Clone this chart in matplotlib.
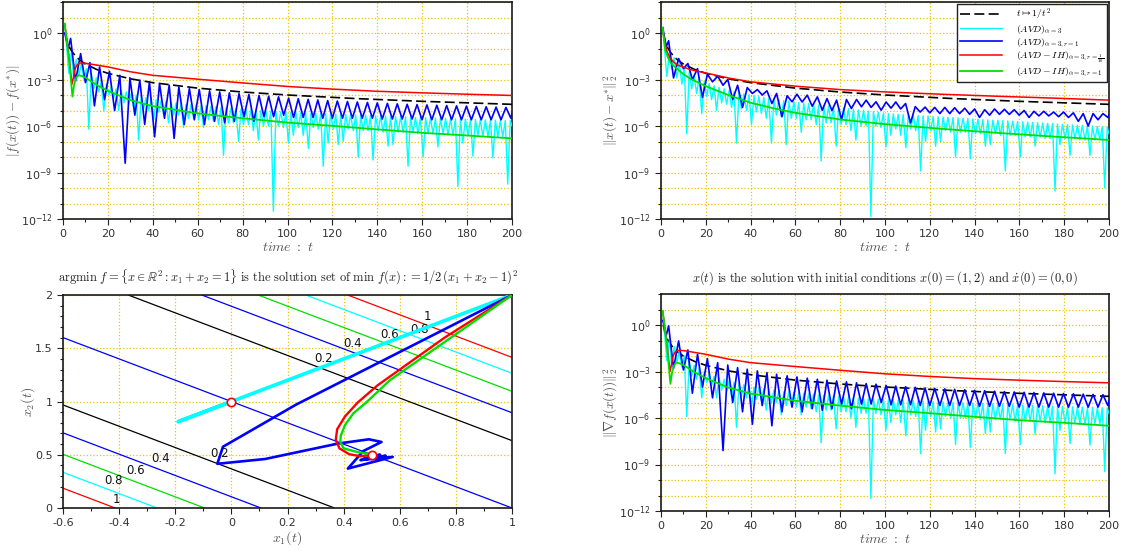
import numpy as np
import matplotlib
matplotlib.use('Agg')
import matplotlib.pyplot as plt
from matplotlib.ticker import FixedLocator, FixedFormatter, NullFormatter

plt.rcParams['mathtext.fontset'] = 'cm'
plt.rcParams['font.family'] = ['DejaVu Sans']

# ---------------------------------------------------------------- data
# time axis ticks
time_ticks = [0, 20, 40, 60, 80, 100, 120, 140, 160, 180, 200]
time_tick_labels = ['0', '20', '40', '60', '80', '100', '120', '140', '160', '180', '200']
time_minor = [10, 30, 50, 70, 90, 110, 130, 150, 170, 190]
log_label_exps = [-12, -9, -6, -3, 0]
log_tick_labels = [r'$\mathdefault{10^{-12}}$', r'$\mathdefault{10^{-9}}$', r'$\mathdefault{10^{-6}}$',
                   r'$\mathdefault{10^{-3}}$', r'$\mathdefault{10^{0}}$']
log_minor_exps = [-12, -11, -10, -9, -8, -7, -6, -5, -4, -3, -2, -1, 0, 1, 2]

# reference curve t -> 1/t^2
ref_t = [1, 1.5, 2, 3, 4, 6, 8, 10, 15, 20, 30, 40, 60, 80, 100, 130, 160, 200]
ref_v = [1.0, 0.444, 0.25, 0.111, 0.0625, 0.0278, 0.0156, 0.01, 0.00444, 0.0025, 0.00111,
         6.25e-4, 2.78e-4, 1.56e-4, 1.0e-4, 5.92e-5, 3.91e-5, 2.5e-5]

# (AVD)_{alpha=3}: times of oscillation troughs and peaks (log10 values per panel)
cyan_t_start, cyan_t_end = 0.8, 200.0
cyan_trough_t = [2.6, 4.8, 7.1, 9.3, 11.5, 13.7, 15.9, 18.2, 20.4, 22.6,
                 24.8, 27.1, 29.3, 31.5, 33.7, 35.9, 38.2, 40.4, 42.6, 44.8,
                 47.0, 49.3, 51.5, 53.7, 55.9, 58.2, 60.4, 62.6, 64.8, 67.0,
                 69.3, 71.5, 73.7, 75.9, 78.2, 80.4, 82.6, 84.8, 87.0, 89.3,
                 91.5, 93.7, 95.9, 98.2, 100.4, 102.6, 104.8, 107.0, 109.3, 111.5,
                 113.7, 115.9, 118.1, 120.4, 122.6, 124.8, 127.0, 129.3, 131.5, 133.7,
                 135.9, 138.1, 140.4, 142.6, 144.8, 147.0, 149.3, 151.5, 153.7, 155.9,
                 158.1, 160.4, 162.6, 164.8, 167.0, 169.3, 171.5, 173.7, 175.9, 178.1,
                 180.4, 182.6, 184.8, 187.0, 189.3, 191.5, 193.7, 195.9, 198.1]
cyan_peak_t = [3.7, 5.9, 8.2, 10.4, 12.6, 14.8, 17.0, 19.3, 21.5, 23.7,
               25.9, 28.2, 30.4, 32.6, 34.8, 37.0, 39.3, 41.5, 43.7, 45.9,
               48.1, 50.4, 52.6, 54.8, 57.0, 59.3, 61.5, 63.7, 65.9, 68.1,
               70.4, 72.6, 74.8, 77.0, 79.3, 81.5, 83.7, 85.9, 88.1, 90.4,
               92.6, 94.8, 97.0, 99.3, 101.5, 103.7, 105.9, 108.1, 110.4, 112.6,
               114.8, 117.0, 119.2, 121.5, 123.7, 125.9, 128.1, 130.4, 132.6, 134.8,
               137.0, 139.2, 141.5, 143.7, 145.9, 148.1, 150.4, 152.6, 154.8, 157.0,
               159.2, 161.5, 163.7, 165.9, 168.1, 170.4, 172.6, 174.8, 177.0, 179.2,
               181.5, 183.7, 185.9, 188.1, 190.4, 192.6, 194.8, 197.0, 199.2]

# ---- top-left panel |f(x(t)) - f(x*)|  (log10 values)
tl_cyan_ends = [0.6, -6.0]
tl_cyan_trough = [-2.6, -2.9, -2.7, -3.0, -6.2, -3.6, -3.8, -5.0, -4.0, -4.2,
                  -5.0, -4.5, -4.6, -4.9, -6.9, -4.9, -5.0, -5.6, -5.1, -5.2,
                  -5.8, -5.3, -5.3, -6.1, -5.5, -5.5, -5.6, -6.1, -5.6, -5.7,
                  -5.9, -7.9, -5.8, -5.8, -7.0, -5.9, -5.9, -6.3, -6.9, -6.0,
                  -6.0, -11.5, -6.0, -6.1, -7.1, -6.6, -6.1, -6.6, -7.45, -6.1,
                  -6.2, -8.6, -7.1, -6.2, -7.2, -7.0, -6.2, -6.3, -8.0, -6.3,
                  -6.3, -8.2, -6.3, -6.4, -7.3, -7.2, -6.4, -6.4, -8.6, -6.4,
                  -6.5, -8.0, -6.5, -6.5, -7.35, -6.5, -6.6, -6.6, -9.9, -7.1,
                  -6.6, -7.95, -6.6, -6.7, -6.7, -8.05, -6.7, -6.7, -9.75]
tl_cyan_peak = [-1.3, -1.7, -2.0, -2.3, -2.6, -2.9, -3.1, -3.3, -3.45, -3.6,
                -3.7, -3.8, -3.9, -4.0, -4.1, -4.15, -4.2, -4.3, -4.35, -4.4,
                -4.45, -4.5, -4.55, -4.6, -4.62, -4.65, -4.68, -4.7, -4.73, -4.76,
                -4.8, -4.82, -4.85, -4.87, -4.9, -4.92, -4.95, -4.97, -5.0, -5.02,
                -5.04, -5.06, -5.08, -5.1, -5.11, -5.12, -5.14, -5.15, -5.17, -5.18,
                -5.2, -5.21, -5.22, -5.24, -5.25, -5.26, -5.28, -5.29, -5.3, -5.31,
                -5.33, -5.34, -5.35, -5.36, -5.38, -5.39, -5.4, -5.41, -5.42, -5.44,
                -5.45, -5.46, -5.47, -5.48, -5.5, -5.51, -5.52, -5.53, -5.54, -5.55,
                -5.57, -5.58, -5.59, -5.6, -5.61, -5.62, -5.63, -5.64, -5.65]

# (AVD)_{alpha=3,r=1}: alternating trough/peak times
blue_t = [0.8,
          2.3, 3.4, 5.6, 7.85, 10.0, 12.0, 14.0, 16.3, 18.5, 20.7,
          23.0, 25.3, 27.7, 29.8, 32.0, 34.2, 36.4, 38.5, 40.8, 43.0,
          45.2, 47.3, 49.5, 51.6, 54.0, 56.3, 58.5, 60.7, 63.0, 65.3,
          67.5, 69.8, 72.0, 74.1, 76.3, 78.4, 80.6, 82.8, 85.0, 87.3,
          89.5, 91.6, 93.8, 96.0, 98.3, 100.5, 102.7, 104.8, 107.0, 109.2,
          111.4, 113.5, 115.7, 117.9, 120.0, 122.2, 124.5, 126.7, 128.9, 131.1,
          133.3, 135.6, 137.8, 140.0, 142.2, 144.5, 146.7, 148.9, 151.1, 153.3,
          155.5, 157.7, 159.9, 162.1, 164.3, 166.5, 168.7, 170.9, 173.1, 175.3,
          177.5, 179.7, 181.9, 184.1, 186.3, 188.5, 190.7, 192.9, 195.1, 197.3,
          199.5, 200.0]
tl_blue = [0.0,
           -1.0, -0.35, -3.1, -1.33, -3.2, -1.91, -4.7, -2.19, -4.3, -2.47,
           -5.0, -2.73, -8.4, -2.88, -5.3, -3.05, -5.9, -3.15, -6.7, -3.26,
           -5.5, -3.37, -6.8, -3.48, -5.9, -3.58, -5.6, -3.65, -5.9, -3.73,
           -5.7, -3.8, -5.8, -3.86, -5.7, -3.91, -5.4, -3.97, -5.7, -4.03,
           -5.4, -4.08, -5.4, -4.12, -5.3, -4.2, -5.45, -4.24, -5.45, -4.28,
           -5.45, -4.32, -5.5, -4.36, -5.5, -4.39, -5.5, -4.42, -5.5, -4.45,
           -5.5, -4.48, -5.5, -4.51, -5.55, -4.54, -5.55, -4.57, -5.55, -4.6,
           -5.55, -4.62, -5.6, -4.64, -5.6, -4.66, -5.6, -4.68, -5.6, -4.7,
           -5.6, -4.72, -5.6, -4.74, -5.6, -4.76, -5.6, -4.78, -5.6, -4.8,
           -5.5, -5.2]

tl_red_t = [0.75, 1.5, 2.5, 3.3, 4.0, 4.6, 5.2, 6.0, 7.0, 8.0, 10, 15, 20, 30, 40, 60, 80, 100,
            120, 140, 160, 180, 200]
tl_red = [0.6, -0.2, -1.3, -2.4, -3.3, -2.9, -2.4, -2.1, -1.97, -1.93, -1.95, -2.07, -2.19, -2.5,
          -2.73, -2.98, -3.22, -3.45, -3.62, -3.76, -3.86, -3.95, -4.03]
tl_green_t = [0.75, 1.5, 2.5, 3.3, 4.2, 5.0, 6.0, 7.0, 8.5, 10, 15, 20, 30, 40, 60, 80, 100,
              120, 140, 160, 180, 200]
tl_green = [0.6, -0.3, -1.5, -2.7, -4.1, -3.3, -2.85, -2.73, -2.78, -2.88, -3.35, -3.73, -4.33,
            -4.72, -5.19, -5.5, -5.78, -5.99, -6.22, -6.44, -6.61, -6.8]

# ---- top-right panel ||x(t) - x*||^2 (log10 values)
tr_cyan_ends = [0.34, -6.5]
tr_cyan_trough = [-2.8, -2.3, -2.9, -3.3, -6.5, -3.6, -3.9, -5.2, -4.1, -4.3,
                  -5.0, -4.5, -4.6, -4.8, -7.1, -4.9, -5.0, -5.9, -5.1, -5.2,
                  -5.5, -7.1, -5.3, -5.4, -7.2, -5.5, -5.5, -6.4, -5.6, -5.6,
                  -5.9, -8.25, -5.8, -5.8, -7.3, -5.9, -5.9, -6.3, -6.9, -6.0,
                  -6.0, -11.85, -6.0, -6.1, -7.35, -6.6, -6.2, -6.6, -7.4, -6.2,
                  -6.3, -8.9, -7.0, -6.3, -7.3, -7.0, -6.3, -6.4, -8.0, -6.4,
                  -6.4, -8.1, -6.5, -6.5, -7.3, -7.2, -6.5, -6.6, -8.9, -6.6,
                  -6.6, -8.0, -6.7, -6.7, -7.3, -6.7, -6.8, -6.8, -10.2, -7.2,
                  -6.8, -7.9, -6.8, -6.9, -6.9, -7.9, -6.9, -6.9, -10.0]
tr_cyan_peak = [-1.4, -1.6, -1.9, -2.2, -2.5, -2.7, -2.9, -3.1, -3.25, -3.4,
                -3.5, -3.6, -3.7, -3.78, -3.85, -3.92, -3.98, -4.04, -4.1, -4.15,
                -4.2, -4.25, -4.3, -4.35, -4.4, -4.44, -4.48, -4.52, -4.56, -4.6,
                -4.64, -4.68, -4.72, -4.76, -4.8, -4.84, -4.88, -4.92, -4.96, -5.0,
                -5.04, -5.08, -5.12, -5.16, -5.2, -5.22, -5.24, -5.26, -5.28, -5.3,
                -5.32, -5.34, -5.36, -5.38, -5.4, -5.42, -5.44, -5.46, -5.48, -5.5,
                -5.52, -5.54, -5.56, -5.58, -5.6, -5.62, -5.63, -5.65, -5.67, -5.69,
                -5.71, -5.73, -5.75, -5.77, -5.79, -5.81, -5.83, -5.85, -5.87, -5.89,
                -5.91, -5.93, -5.95, -5.97, -5.99, -6.01, -6.03, -6.05, -6.07]
tr_blue = [0.34,
           -0.9, -0.5, -2.9, -1.65, -2.3, -1.97, -3.0, -2.3, -4.16, -2.66,
           -3.15, -2.79, -3.37, -3.0, -4.29, -3.37, -4.8, -3.52, -3.9, -3.65,
           -4.0, -3.73, -4.55, -3.9, -5.4, -4.05, -4.44, -3.95, -4.45, -4.01,
           -4.72, -4.12, -4.98, -4.23, -5.0, -4.33, -5.58, -4.29, -4.87, -4.29,
           -4.76, -4.33, -4.8, -4.44, -4.98, -4.45, -4.85, -4.45, -4.9, -4.55,
           -5.8, -4.75, -5.1, -4.78, -5.15, -4.8, -5.2, -4.8, -5.2, -4.82,
           -5.2, -4.85, -5.25, -4.9, -5.45, -4.95, -5.3, -4.9, -5.25, -4.92,
           -5.25, -4.95, -5.3, -5.0, -5.45, -5.05, -5.35, -5.05, -5.35, -5.1,
           -5.4, -5.1, -5.45, -5.15, -5.7, -5.2, -6.0, -5.2, -5.6, -5.2,
           -5.45, -5.3]
tr_red_t = [0.75, 1.5, 2.7, 4.0, 5.5, 7.1, 10, 13, 20, 30, 40, 60, 80, 100, 125, 150, 175, 200]
tr_red = [0.34, -0.5, -1.2, -1.6, -1.85, -2.05, -2.2, -2.36, -2.58, -2.9, -3.15, -3.43, -3.65,
          -3.8, -3.95, -4.08, -4.2, -4.33]
tr_green_t = [0.75, 1.9, 3.0, 4.1, 5.5, 7.1, 10, 13, 20, 30, 40, 50, 60, 80, 100, 125, 150, 175, 200]
tr_green = [0.34, -1.1, -1.55, -1.87, -2.1, -2.3, -2.65, -2.94, -3.43, -4.0, -4.5, -4.85, -5.15,
            -5.58, -5.88, -6.18, -6.44, -6.68, -6.9]

# ---- bottom-right panel ||grad f(x(t))||^2 (log10 values)
br_cyan_ends = [0.9, -5.7]
br_cyan_trough = [-2.3, -2.6, -2.4, -2.7, -5.9, -3.3, -3.5, -4.7, -3.7, -3.9,
                  -4.7, -4.2, -4.3, -4.6, -6.6, -4.6, -4.7, -5.3, -4.8, -4.9,
                  -5.5, -5.0, -5.0, -5.8, -5.2, -5.2, -5.3, -5.8, -5.3, -5.4,
                  -5.6, -7.6, -5.5, -5.5, -6.7, -5.6, -5.6, -6.0, -6.6, -5.7,
                  -5.7, -11.2, -5.7, -5.8, -6.8, -6.3, -5.8, -6.3, -7.15, -5.8,
                  -5.9, -8.3, -6.8, -5.9, -6.9, -6.7, -5.9, -6.0, -7.7, -6.0,
                  -6.0, -7.9, -6.0, -6.1, -7.0, -6.9, -6.1, -6.1, -8.3, -6.1,
                  -6.2, -7.7, -6.2, -6.2, -7.05, -6.2, -6.3, -6.3, -9.6, -6.8,
                  -6.3, -7.65, -6.3, -6.4, -6.4, -7.75, -6.4, -6.4, -9.45]
br_cyan_peak = [-1.0, -1.4, -1.7, -2.0, -2.3, -2.6, -2.8, -3.0, -3.15, -3.3,
                -3.4, -3.5, -3.6, -3.7, -3.8, -3.85, -3.9, -4.0, -4.05, -4.1,
                -4.15, -4.2, -4.25, -4.3, -4.32, -4.35, -4.38, -4.4, -4.43, -4.46,
                -4.5, -4.52, -4.55, -4.57, -4.6, -4.62, -4.65, -4.67, -4.7, -4.72,
                -4.74, -4.76, -4.78, -4.8, -4.81, -4.82, -4.84, -4.85, -4.87, -4.88,
                -4.9, -4.91, -4.92, -4.94, -4.95, -4.96, -4.98, -4.99, -5.0, -5.01,
                -5.03, -5.04, -5.05, -5.06, -5.08, -5.09, -5.1, -5.11, -5.12, -5.14,
                -5.15, -5.16, -5.17, -5.18, -5.2, -5.21, -5.22, -5.23, -5.24, -5.25,
                -5.27, -5.28, -5.29, -5.3, -5.31, -5.32, -5.33, -5.34, -5.35]
br_blue = [0.3,
           -0.7, -0.05, -2.8, -1.03, -2.9, -1.61, -4.4, -1.89, -4.0, -2.17,
           -4.7, -2.43, -8.1, -2.58, -5.0, -2.75, -5.6, -2.85, -6.4, -2.96,
           -5.2, -3.07, -6.5, -3.18, -5.6, -3.28, -5.3, -3.35, -5.6, -3.43,
           -5.4, -3.5, -5.5, -3.56, -5.4, -3.61, -5.1, -3.67, -5.4, -3.73,
           -5.1, -3.78, -5.1, -3.82, -5.0, -3.9, -5.15, -3.94, -5.15, -3.98,
           -5.15, -4.02, -5.2, -4.06, -5.2, -4.09, -5.2, -4.12, -5.2, -4.15,
           -5.2, -4.18, -5.2, -4.21, -5.25, -4.24, -5.25, -4.27, -5.25, -4.3,
           -5.25, -4.32, -5.3, -4.34, -5.3, -4.36, -5.3, -4.38, -5.3, -4.4,
           -5.3, -4.42, -5.3, -4.44, -5.3, -4.46, -5.3, -4.48, -5.3, -4.5,
           -5.2, -4.9]
br_red_t = tl_red_t
br_red = [0.9, 0.1, -1.0, -2.1, -3.0, -2.6, -2.1, -1.8, -1.67, -1.63, -1.65, -1.77, -1.89, -2.2,
          -2.43, -2.68, -2.92, -3.15, -3.32, -3.46, -3.56, -3.65, -3.73]
br_green_t = tl_green_t
br_green = [0.9, 0.0, -1.2, -2.4, -3.8, -3.0, -2.55, -2.43, -2.48, -2.58, -3.05, -3.43, -4.03,
            -4.42, -4.89, -5.2, -5.48, -5.69, -5.92, -6.14, -6.31, -6.5]

# ---- bottom-left panel: trajectories in the (x1, x2) plane
contour_levels = [0.2, 0.4, 0.6, 0.8, 1.0]
contour_labels = ['0.2', '0.4', '0.6', '0.8', '1']
solution_x1 = [-0.6, 1.0]
solution_x2 = [1.6, 0.0]
cyan_traj_x1 = [1.0, -0.19, 0.0]
cyan_traj_x2 = [2.0, 0.81, 1.0]
blue_traj_x1 = [1.0, 0.23, -0.03, -0.05, 0.12, 0.38, 0.49, 0.535, 0.47, 0.415, 0.575, 0.46,
                0.55, 0.47, 0.53, 0.49, 0.51, 0.5]
blue_traj_x2 = [2.0, 0.97, 0.575, 0.415, 0.46, 0.605, 0.645, 0.62, 0.535, 0.37, 0.48, 0.45,
                0.49, 0.46, 0.5, 0.48, 0.505, 0.5]
red_traj_x1 = [1.0, 0.76, 0.6, 0.52, 0.45, 0.405, 0.377, 0.372, 0.385, 0.42, 0.46, 0.49, 0.5]
red_traj_x2 = [2.0, 1.6, 1.3, 1.15, 0.99, 0.86, 0.74, 0.64, 0.56, 0.505, 0.486, 0.495, 0.5]
green_traj_x1 = [1.0, 0.565, 0.48, 0.435, 0.405, 0.39, 0.388, 0.4, 0.447, 0.49, 0.5]
green_traj_x2 = [2.0, 1.2, 0.99, 0.89, 0.78, 0.68, 0.62, 0.56, 0.527, 0.507, 0.5]
limit_x1 = [0.0, 0.5]
limit_x2 = [1.0, 0.5]
bl_xticks = [-0.6, -0.4, -0.2, 0.0, 0.2, 0.4, 0.6, 0.8, 1.0]
bl_xtick_labels = ['-0.6', '-0.4', '-0.2', '0', '0.2', '0.4', '0.6', '0.8', '1']
bl_yticks = [0.0, 0.5, 1.0, 1.5, 2.0]
bl_ytick_labels = ['0', '0.5', '1', '1.5', '2']

legend_labels = [r'$t\mapsto 1/t^2$', r'$(AVD)_{\alpha=3}$', r'$(AVD)_{\alpha=3,r=1}$',
                 r'$(AVD-IH)_{\alpha=3,r=\frac{1}{10}}$', r'$(AVD-IH)_{\alpha=3,r=1}$']

# ---------------------------------------------------------------- style
C_CYAN, C_BLUE, C_RED, C_GREEN = '#00ffff', '#0000ff', '#ff0000', '#00e000'
GRID = '#f2c200'
LABEL_C = '#555555'
TICK_C = '#333333'

W, H = 1126, 550
fig = plt.figure(figsize=(W / 100, H / 100), dpi=100)


def add_axes(l, t, r, b):
    return fig.add_axes([l / W, 1 - b / H, (r - l) / W, (b - t) / H])


def frame(ax):
    for s in ax.spines.values():
        s.set_linewidth(1.2)
        s.set_color('#1a1a1a')
    ax.tick_params(which='both', direction='out', top=False, right=False,
                   colors='#222222', labelcolor=TICK_C, labelsize=8, width=0.8)
    ax.tick_params(which='major', length=4)
    ax.tick_params(which='minor', length=2.5)
    ax.set_axisbelow(True)


def zigzag(ts, te, tr_t, pk_t, ends, tr_v, pk_v):
    t = np.concatenate([[ts], np.column_stack([tr_t, pk_t]).ravel(), [te]])
    v = np.concatenate([[ends[0]], np.column_stack([tr_v, pk_v]).ravel(), [ends[1]]])
    return t, 10.0 ** v


def log_panel(ax, ylabel, cyan, blue, red_t, red, green_t, green):
    frame(ax)
    ax.set_yscale('log')
    hd, = ax.plot(ref_t, ref_v, color='black', lw=1.2, ls=(0, (6, 2.6)), zorder=3)
    ct, cv = zigzag(cyan_t_start, cyan_t_end, cyan_trough_t, cyan_peak_t, *cyan)
    hc, = ax.plot(ct, cv, color=C_CYAN, lw=1.0, zorder=4)
    hb, = ax.plot(blue_t, 10.0 ** np.array(blue), color=C_BLUE, lw=1.2, zorder=5)
    hr, = ax.plot(red_t, 10.0 ** np.array(red), color=C_RED, lw=1.1, zorder=6)
    hg, = ax.plot(green_t, 10.0 ** np.array(green), color=C_GREEN, lw=1.3, zorder=7)
    ax.set_xlim(0, 200)
    ax.set_ylim(1e-12, 1e2)
    ax.xaxis.set_major_locator(FixedLocator(time_ticks))
    ax.xaxis.set_major_formatter(FixedFormatter(time_tick_labels))
    ax.xaxis.set_minor_locator(FixedLocator(time_minor))
    ax.yaxis.set_major_locator(FixedLocator([10.0 ** e for e in log_label_exps]))
    ax.yaxis.set_major_formatter(FixedFormatter(log_tick_labels))
    ax.yaxis.set_minor_locator(FixedLocator([10.0 ** e for e in log_minor_exps]))
    ax.yaxis.set_minor_formatter(NullFormatter())
    ax.grid(True, which='major', color=GRID, ls=':', lw=0.9)
    ax.grid(True, which='minor', axis='y', color=GRID, ls=':', lw=0.9)
    ax.set_xlabel(r'$time\ :\ t$', fontsize=10, color=LABEL_C)
    ax.xaxis.set_label_coords(0.5, -0.098)
    ax.set_ylabel(ylabel, fontsize=9.5, color=LABEL_C)
    ax.yaxis.set_label_coords(-0.092, 0.5)
    return [hd, hc, hb, hr, hg]


ax_tl = add_axes(63, 2, 512, 219)
ax_tr = add_axes(661, 2, 1109, 219)
ax_bl = add_axes(63, 295, 512, 508)
ax_br = add_axes(661, 294, 1109, 511)

log_panel(ax_tl, r'$|f(x(t))-f(x^{*})|$', (tl_cyan_ends, tl_cyan_trough, tl_cyan_peak),
          tl_blue, tl_red_t, tl_red, tl_green_t, tl_green)
handles = log_panel(ax_tr, r'$\|x(t)-x^{*}\|_2^2$', (tr_cyan_ends, tr_cyan_trough, tr_cyan_peak),
                    tr_blue, tr_red_t, tr_red, tr_green_t, tr_green)
log_panel(ax_br, r'$\|\nabla f(x(t))\|_2^2$', (br_cyan_ends, br_cyan_trough, br_cyan_peak),
          br_blue, br_red_t, br_red, br_green_t, br_green)

leg = ax_tr.legend(handles, legend_labels, loc='upper right', fontsize=7, frameon=True,
                   fancybox=False, edgecolor='#222222', framealpha=1.0, handlelength=4.3,
                   handletextpad=1.4, labelspacing=0.02, borderpad=0.3, borderaxespad=0.2)
leg.get_frame().set_linewidth(1.0)
leg.set_zorder(20)

ax_br.text(0.5, 1.074, r'$x(t)\ \mathrm{is\ the\ solution\ with\ initial\ conditions}\ '
           r'x(0)=(1,2)\ \mathrm{and}\ \dot{x}(0)=(0,0)$',
           transform=ax_br.transAxes, ha='center', va='center', fontsize=9, color='#222222')

# ---------------------------------------------------------------- bottom-left
ax = ax_bl
frame(ax)
g1 = np.linspace(-0.6, 1.0, 321)
g2 = np.linspace(0.0, 2.0, 401)
X1, X2 = np.meshgrid(g1, g2)
F = 0.5 * (X1 + X2 - 1.0) ** 2
ax.contour(X1, X2, F, levels=contour_levels,
           colors=['black', C_BLUE, C_GREEN, C_CYAN, C_RED], linewidths=0.9, zorder=2)
upper_pos = [(0.327, 1.40), (0.433, 1.548), (0.564, 1.626), (0.672, 1.675), (0.70, 1.80)]
lower_pos = [(-0.042, 0.511), (-0.252, 0.467), (-0.342, 0.355), (-0.419, 0.262), (-0.411, 0.084)]
for lab, (ux, uy), (lx, ly) in zip(contour_labels, upper_pos, lower_pos):
    ax.text(ux, uy, lab, ha='center', va='center', fontsize=8.5, color='#111111', zorder=3)
    ax.text(lx, ly, lab, ha='center', va='center', fontsize=8.5, color='#111111', zorder=3)
ax.plot(solution_x1, solution_x2, color=C_BLUE, lw=0.9, zorder=2)
ax.plot(cyan_traj_x1, cyan_traj_x2, color=C_CYAN, lw=2.6, zorder=4, solid_capstyle='butt')
ax.plot(blue_traj_x1, blue_traj_x2, color=C_BLUE, lw=1.9, zorder=5)
ax.plot(red_traj_x1, red_traj_x2, color=C_RED, lw=1.7, zorder=6)
ax.plot(green_traj_x1, green_traj_x2, color=C_GREEN, lw=1.7, zorder=7)
ax.plot(limit_x1, limit_x2, 'o', ms=6, mfc='white', mec=C_RED, mew=1.2, zorder=10)
ax.set_xlim(-0.6, 1.0)
ax.set_ylim(0.0, 2.0)
ax.xaxis.set_major_locator(FixedLocator(bl_xticks))
ax.xaxis.set_major_formatter(FixedFormatter(bl_xtick_labels))
ax.xaxis.set_minor_locator(FixedLocator(np.round(np.arange(-0.6, 1.001, 0.1), 2)))
ax.yaxis.set_major_locator(FixedLocator(bl_yticks))
ax.yaxis.set_major_formatter(FixedFormatter(bl_ytick_labels))
ax.yaxis.set_minor_locator(FixedLocator(np.round(np.arange(0.0, 2.001, 0.1), 2)))
ax.grid(True, which='major', color=GRID, ls=':', lw=0.9)
ax.set_xlabel(r'$x_1(t)$', fontsize=10, color=LABEL_C)
ax.xaxis.set_label_coords(0.5, -0.098)
ax.set_ylabel(r'$x_2(t)$', fontsize=10, color=LABEL_C)
ax.yaxis.set_label_coords(-0.058, 0.5)
ax.text(0.5, 1.083, r'$\mathrm{argmin}\ f=\{x\in\mathbb{R}^2:x_1+x_2=1\}\ '
        r'\mathrm{is\ the\ solution\ set\ of}\ \min\ f(x):=1/2\,(x_1+x_2-1)^2$',
        transform=ax.transAxes, ha='center', va='center', fontsize=9, color='#222222')

fig.savefig('out.png', dpi=100)
